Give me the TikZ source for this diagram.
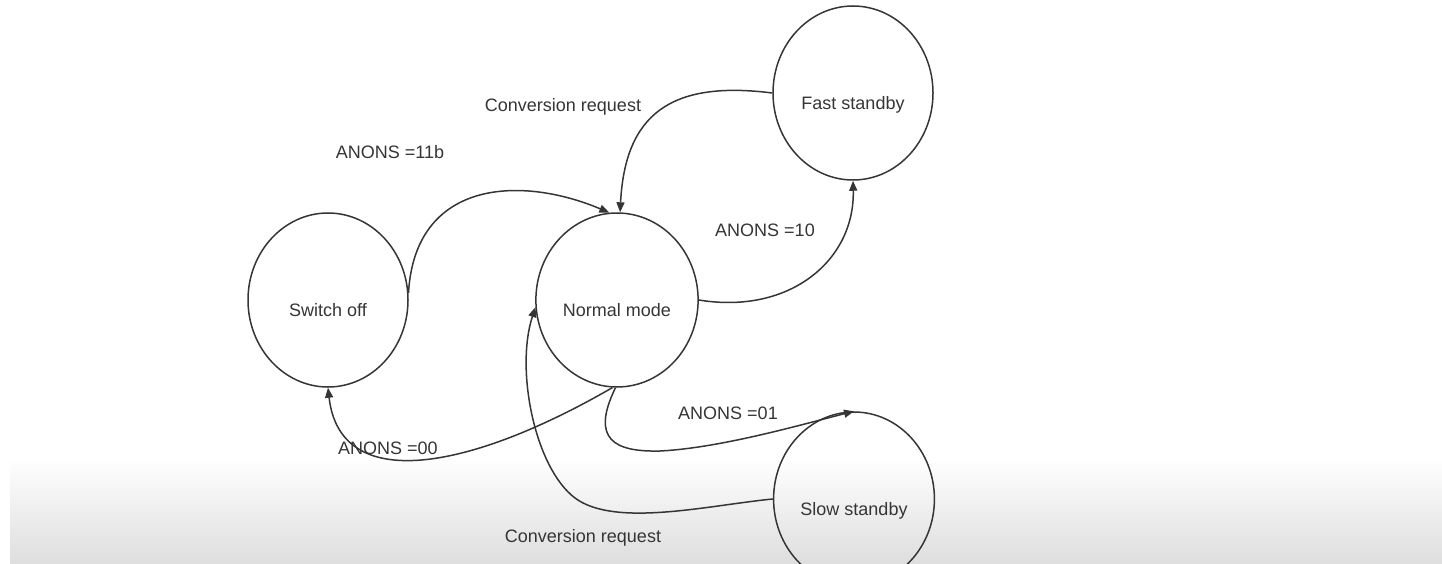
\documentclass[tikz,border=0pt]{standalone}
\usepackage{fontspec}
\setmainfont{Liberation Sans}
\usetikzlibrary{shapes.geometric,arrows.meta}
\definecolor{ink}{HTML}{353535}
\tikzset{
  state/.style={draw=ink, line width=1.5pt, ellipse, minimum width=160pt, minimum height=174pt,
    text height=38pt, text depth=5pt, text=ink, font=\fontsize{18}{20}\selectfont},
  trans/.style={draw=ink, line width=1.5pt, -{Triangle[length=10pt,width=8pt]}},
  cond/.style={text=ink, font=\fontsize{18}{20}\selectfont}
}
\begin{document}
\begin{tikzpicture}[x=1pt, y=1pt, yscale=-1]
  \useasboundingbox (0,0) rectangle (1442,564);
  \shade[top color=white, bottom color=black!13] (10,458) rectangle (1442,564);
  % states
  \foreach \name/\x/\y/\txt in {off/328/300/Switch off, normal/617/300/Normal mode,
      fast/853/93/Fast standby, slow/854/499/Slow standby}{
    \node[state] (\name) at (\x,\y) {\txt};
  }
  % transitions
  \draw[trans] (off.5) .. controls (415,180) and (520,175) .. (normal.95);
  \draw[trans] (fast.west) .. controls (670,80) and (625,115) .. (normal.88);
  \draw[trans] (normal.east) .. controls (790,315) and (855,260) .. (fast.south);
  \draw[trans] (normal.269) .. controls (590,440) and (615,452) .. (660,451)
    .. controls (720,448) and (800,425) .. (slow.north);
  \draw[trans] (normal.267) .. controls (470,470) and (340,495) .. (off.south);
  \draw[trans] (slow.west) .. controls (710,505) and (615,528) .. (575,498)
    .. controls (535,468) and (515,370) .. (normal.185);
  % conditions
  \node[cond] (c11) at (390,152) {ANONS =11b};
  \node[cond] (reqf) at (563,107) {Conversion request};
  \node[cond] (c10) at (765,230) {ANONS =10};
  \node[cond] (c01) at (728,413) {ANONS =01};
  \node[cond] (c00) at (388,448) {ANONS =00};
  \node[cond] (reqs) at (583,538) {Conversion request};
\end{tikzpicture}
\end{document}
